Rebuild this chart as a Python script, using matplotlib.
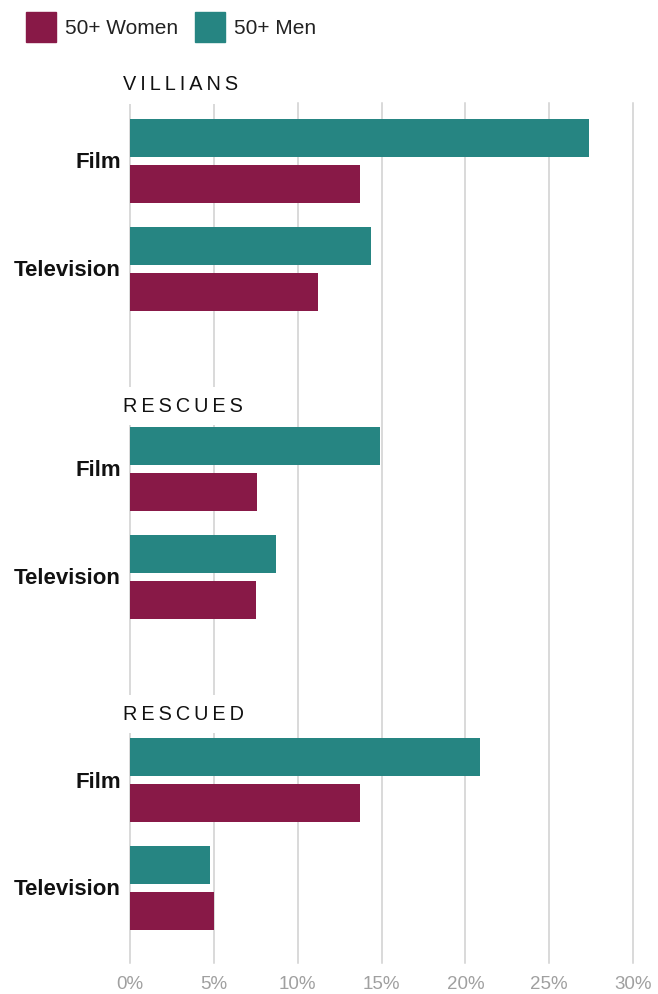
import numpy as np
import matplotlib.pyplot as plt
from matplotlib.patches import Rectangle

W, H = 658, 994

# data (percent)
sections = ["VILLIANS", "RESCUES", "RESCUED"]
media = ["Film", "Television"]
men = [[27.4, 14.4], [14.9, 8.7], [20.9, 4.8]]
women = [[13.7, 11.2], [7.6, 7.5], [13.7, 5.0]]
ticks = [0, 5, 10, 15, 20, 25, 30]
tick_labels = ["0%", "5%", "10%", "15%", "20%", "25%", "30%"]

c_women = "#881947"
c_men = "#268582"

# layout in pixels
AX_L, AX_R, AX_T, AX_B = 130, 633, 103, 963
SEC_START = [138, 446, 757]
TITLE_Y = [85, 406, 714]
MEDIA_OFF = [0, 107.5]
PAIR_OFF = 46
BAR_H = 38


def fx(x):
    return x / W


def fy(y):
    return 1 - y / H


fig = plt.figure(figsize=(W / 100, H / 100), dpi=100)
ax = fig.add_axes([fx(AX_L), fy(AX_B), (AX_R - AX_L) / W, (AX_B - AX_T) / H])
ax.set_xlim(0, 30)
ax.set_ylim(AX_B, AX_T)

for t in ticks:
    ax.axvline(t, color="#d0d0d0", lw=1.1, zorder=0, clip_on=False)

px_per_pct = (AX_R - AX_L) / 30

for s, name in enumerate(sections):
    for m, lab in enumerate(media):
        yc = SEC_START[s] + MEDIA_OFF[m]
        ax.barh(yc, men[s][m], height=BAR_H, color=c_men, zorder=3)
        ax.barh(yc + PAIR_OFF, women[s][m], height=BAR_H, color=c_women, zorder=3)
        ax.text(-9 / px_per_pct, yc + PAIR_OFF / 2 + 2, lab, ha="right", va="center",
                fontsize=16, fontweight="bold", family="Liberation Sans",
                color="#111111", clip_on=False)
    ax.text(-7 / px_per_pct, TITLE_Y[s], "\u2009".join(name),
            ha="left", va="center", fontsize=14.3, family="Liberation Sans",
            color="#111111", clip_on=False, zorder=1,
            bbox=dict(facecolor="white", edgecolor="none", pad=7))

ax.set_xticks(ticks)
ax.set_xticklabels(tick_labels, color="#a0a0a0", fontsize=13.5, family="Liberation Sans")
ax.tick_params(length=0, pad=9.5)
ax.set_yticks([])
for sp in ax.spines.values():
    sp.set_visible(False)

# legend
fig.add_artist(Rectangle((fx(26), fy(42)), 30 / W, 30 / H, color=c_women, transform=fig.transFigure))
fig.text(fx(65), fy(28.5), "50+ Women", ha="left", va="center", fontsize=15,
         family="Liberation Sans", color="#222222")
fig.add_artist(Rectangle((fx(195), fy(42)), 30 / W, 30 / H, color=c_men, transform=fig.transFigure))
fig.text(fx(234), fy(28.5), "50+ Men", ha="left", va="center", fontsize=15,
         family="Liberation Sans", color="#222222")

fig.savefig("out.png", dpi=100)
